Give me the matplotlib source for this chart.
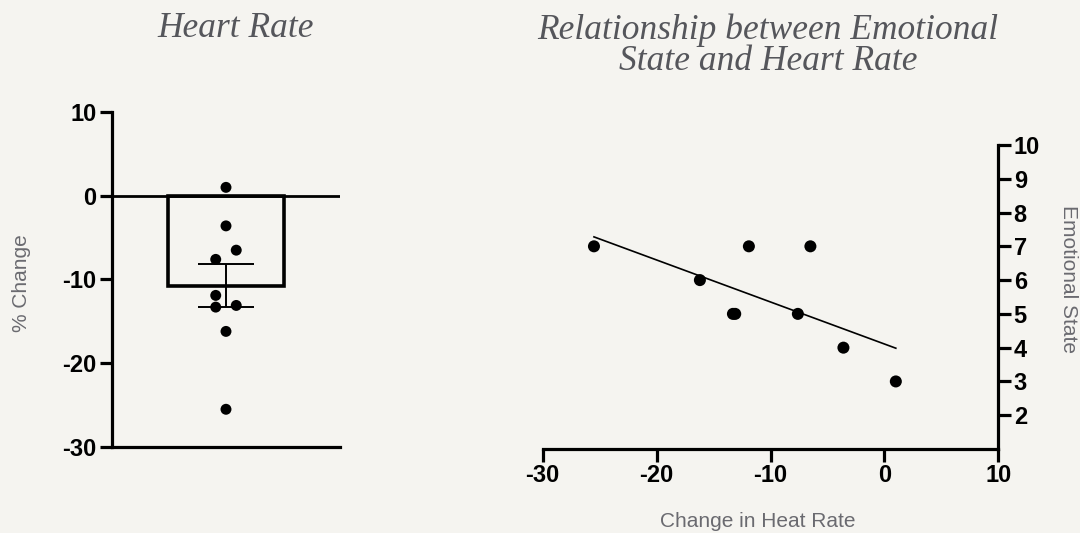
import numpy as np
import matplotlib
matplotlib.use('Agg')
import matplotlib.pyplot as plt
from matplotlib.font_manager import FontProperties

plt.rcParams['axes.unicode_minus'] = False

# Heart rate % change per subject (left panel)
hr_change = [1.0, -3.6, -6.5, -7.6, -11.9, -13.3, -13.1, -16.2, -25.5]
# small horizontal scatter so overlapping dots stay visible
jitter = [0, 0, 0.09, -0.09, -0.09, -0.09, 0.09, 0, 0]

# Relationship panel: change in heart rate vs emotional state
rel_hr = [-25.5, -16.2, -13.3, -13.1, -11.9, -7.6, -6.5, -3.6, 1.0]
rel_emotion = [7, 6, 5, 5, 7, 5, 7, 4, 3]

left_yticks = [-30, -20, -10, 0, 10]
right_xticks = [-30, -20, -10, 0, 10]
right_yticks = [2, 3, 4, 5, 6, 7, 8, 9, 10]

bg = '#f5f4f0'
title_col = '#55565b'
label_col = '#6a6a70'
tick_fp = FontProperties(family='Liberation Sans', weight='bold', size=17)

fig = plt.figure(figsize=(10.8, 5.33), dpi=100, facecolor=bg)

# ---- left: bar with points ----
ax1 = fig.add_axes([0.1037, 0.1614, 0.2111, 0.6285])
ax1.set_facecolor(bg)
mean = np.mean(hr_change)
sem = np.std(hr_change, ddof=1) / np.sqrt(len(hr_change))
ax1.bar(0, mean, width=1.02, facecolor='none', edgecolor='black', linewidth=2.6, zorder=2)
ax1.axhline(0, color='black', lw=2.0, zorder=1)
ax1.errorbar(0, mean, yerr=sem, color='black', lw=1.4, capsize=20, capthick=1.4, zorder=3)
ax1.scatter(np.array(jitter), hr_change, s=62, color='black', zorder=4, edgecolors='none')
ax1.set_xlim(-1, 1)
ax1.set_ylim(-30, 10)
ax1.set_yticks(left_yticks)
ax1.set_xticks([])
for s in ['top', 'right']:
    ax1.spines[s].set_visible(False)
for s in ['left', 'bottom']:
    ax1.spines[s].set_linewidth(2.3)
ax1.tick_params(axis='y', length=9, width=2.3, pad=2)
for lab in ax1.get_yticklabels():
    lab.set_fontproperties(tick_fp)
ax1.set_ylabel('% Change', family='Liberation Sans', size=15, color=label_col, va='center')
ax1.yaxis.set_label_coords(-0.395, 0.49)

fig.text(0.218, 0.947, 'Heart Rate', family='Liberation Serif', style='italic',
         size=25.5, color=title_col, ha='center', va='center')

# ---- right: scatter with regression line ----
ax2 = fig.add_axes([0.5025, 0.1576, 0.4219, 0.5704])
ax2.set_facecolor(bg)
ax2.scatter(rel_hr, rel_emotion, s=75, color='black', zorder=3, edgecolors='none')
slope, intercept = np.polyfit(rel_hr, rel_emotion, 1)
xs = np.array([min(rel_hr), max(rel_hr)])
ax2.plot(xs, slope * xs + intercept, color='black', lw=1.2, zorder=2)
ax2.set_xlim(-30, 10)
ax2.set_ylim(1, 10)
ax2.set_xticks(right_xticks)
ax2.set_yticks(right_yticks)
for s in ['top', 'left']:
    ax2.spines[s].set_visible(False)
for s in ['right', 'bottom']:
    ax2.spines[s].set_linewidth(2.3)
ax2.yaxis.tick_right()
ax2.yaxis.set_label_position('right')
ax2.tick_params(axis='both', length=9, width=2.3, pad=2)
for lab in ax2.get_xticklabels() + ax2.get_yticklabels():
    lab.set_fontproperties(tick_fp)
ax2.set_xlabel('Change in Heat Rate', family='Liberation Sans', size=15, color=label_col, va='center')
ax2.xaxis.set_label_coords(0.473, -0.237)
ax2.set_ylabel('Emotional State', family='Liberation Sans', size=15, color=label_col,
               rotation=270, va='center')
ax2.yaxis.set_label_coords(1.153, 0.559)

fig.text(0.711, 0.914, 'Relationship between Emotional\nState and Heart Rate',
         family='Liberation Serif', style='italic', size=25.5, color=title_col,
         ha='center', va='center', linespacing=0.95)

fig.savefig('out.png', dpi=100, facecolor=bg)
